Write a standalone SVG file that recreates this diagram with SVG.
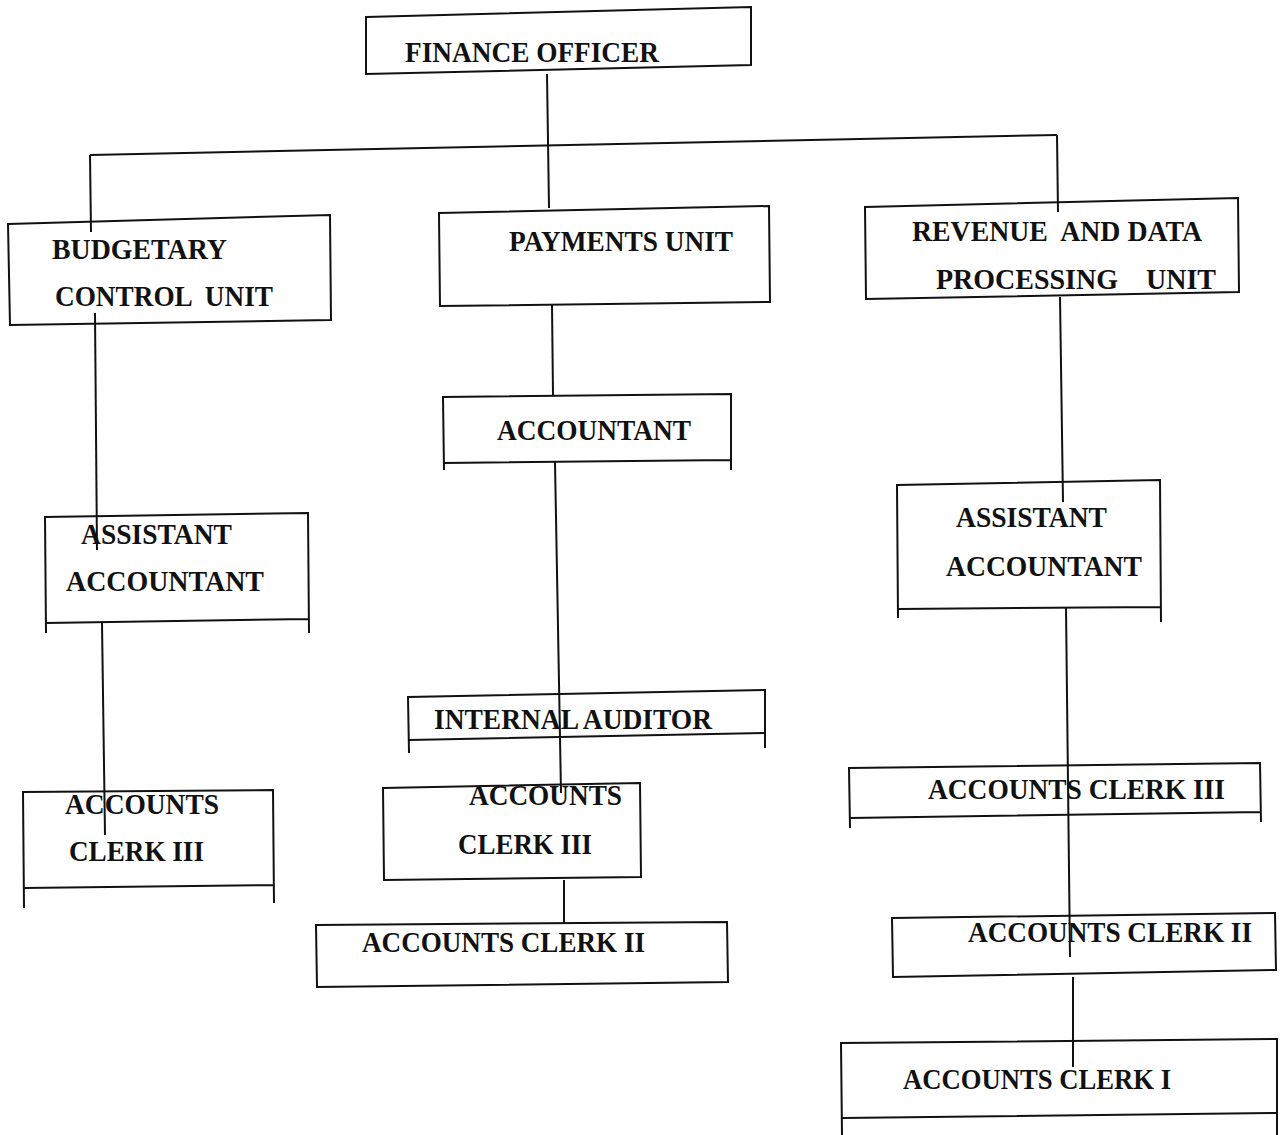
<svg xmlns="http://www.w3.org/2000/svg" width="1284" height="1135" viewBox="0 0 1284 1135">
<style>
.box{fill:none;stroke:#111;stroke-width:2;stroke-linejoin:miter}
.ln{fill:none;stroke:#111;stroke-width:2}
text{font-family:"Liberation Serif","Times New Roman",serif;font-weight:bold;font-size:30px;fill:#111}
</style>
<rect width="1284" height="1135" fill="#fff"/>
<g id="connectors">
<path class="ln" d="M547 74 L549 208"/>
<path class="ln" d="M90 155 L1057 135"/>
<path class="ln" d="M90 155 L91 232"/>
<path class="ln" d="M1057 135 L1058 212"/>
<path class="ln" d="M95 313 L97 550"/>
<path class="ln" d="M102 623 L105 835"/>
<path class="ln" d="M552 305 L553 395"/>
<path class="ln" d="M555 462 L561 793"/>
<path class="ln" d="M564 880 L564 923"/>
<path class="ln" d="M1060 297 L1063 502"/>
<path class="ln" d="M1066 607 L1070 957"/>
<path class="ln" d="M1073 977 L1073 1067"/>
</g>
<g id="finance-officer">
<path class="box" d="M366 17 L751 7 L751 65 L366 74 Z"/>
<text x="405" y="62" textLength="254" lengthAdjust="spacingAndGlyphs">FINANCE OFFICER</text>
</g>
<g id="budgetary-control-unit">
<path class="box" d="M8 224 L330 215 L331 320 L10 325 Z"/>
<text x="52" y="259" textLength="175" lengthAdjust="spacingAndGlyphs">BUDGETARY</text>
<text x="55" y="306" textLength="218" lengthAdjust="spacingAndGlyphs" xml:space="preserve">CONTROL  UNIT</text>
</g>
<g id="payments-unit">
<path class="box" d="M439 213 L769 206 L770 302 L440 306 Z"/>
<text x="509" y="251" textLength="224" lengthAdjust="spacingAndGlyphs">PAYMENTS UNIT</text>
</g>
<g id="revenue-data-processing-unit">
<path class="box" d="M865 207 L1238 198 L1239 292 L866 299 Z"/>
<text x="912" y="241" textLength="290" lengthAdjust="spacingAndGlyphs" xml:space="preserve">REVENUE  AND DATA</text>
<text x="936" y="289" textLength="280" lengthAdjust="spacingAndGlyphs" xml:space="preserve">PROCESSING    UNIT</text>
</g>
<g id="accountant">
<path class="box" d="M444 470 L443 397 L731 394 L731 470 M731 460 L444 463"/>
<text x="497" y="440" textLength="194" lengthAdjust="spacingAndGlyphs">ACCOUNTANT</text>
</g>
<g id="assistant-accountant-left">
<path class="box" d="M46 633 L45 517 L308 513 L309 633 M309 619 L46 623"/>
<text x="81" y="544" textLength="151" lengthAdjust="spacingAndGlyphs">ASSISTANT</text>
<text x="66" y="591" textLength="198" lengthAdjust="spacingAndGlyphs">ACCOUNTANT</text>
</g>
<g id="accounts-clerk-iii-left">
<path class="box" d="M24 908 L23 792 L273 790 L274 903 M274 885 L24 888"/>
<text x="65" y="814" textLength="154" lengthAdjust="spacingAndGlyphs">ACCOUNTS</text>
<text x="69" y="861" textLength="135" lengthAdjust="spacingAndGlyphs">CLERK III</text>
</g>
<g id="internal-auditor">
<path class="box" d="M409 753 L408 697 L765 690 L765 748 M765 733 L409 740"/>
<text x="434" y="729" textLength="278" lengthAdjust="spacingAndGlyphs">INTERNAL AUDITOR</text>
</g>
<g id="accounts-clerk-iii-middle">
<path class="box" d="M383 788 L640 783 L641 877 L384 880 Z"/>
<text x="469" y="805" textLength="153" lengthAdjust="spacingAndGlyphs">ACCOUNTS</text>
<text x="458" y="854" textLength="134" lengthAdjust="spacingAndGlyphs">CLERK III</text>
</g>
<g id="accounts-clerk-ii-middle">
<path class="box" d="M316 925 L727 922 L728 982 L317 987 Z"/>
<text x="362" y="952" textLength="283" lengthAdjust="spacingAndGlyphs">ACCOUNTS CLERK II</text>
</g>
<g id="assistant-accountant-right">
<path class="box" d="M898 618 L897 485 L1160 480 L1161 622 M1161 607 L898 609"/>
<text x="956" y="527" textLength="151" lengthAdjust="spacingAndGlyphs">ASSISTANT</text>
<text x="946" y="576" textLength="196" lengthAdjust="spacingAndGlyphs">ACCOUNTANT</text>
</g>
<g id="accounts-clerk-iii-right">
<path class="box" d="M850 828 L849 768 L1260 763 L1261 822 M1261 812 L850 818"/>
<text x="928" y="799" textLength="297" lengthAdjust="spacingAndGlyphs">ACCOUNTS CLERK III</text>
</g>
<g id="accounts-clerk-ii-right">
<path class="box" d="M892 918 L1275 913 L1276 970 L893 977 Z"/>
<text x="968" y="942" textLength="284" lengthAdjust="spacingAndGlyphs">ACCOUNTS CLERK II</text>
</g>
<g id="accounts-clerk-i">
<path class="box" d="M842 1135 L841 1043 L1277 1039 L1277 1135 M1277 1113 L842 1118"/>
<text x="903" y="1089" textLength="268" lengthAdjust="spacingAndGlyphs">ACCOUNTS CLERK I</text>
</g>
</svg>
